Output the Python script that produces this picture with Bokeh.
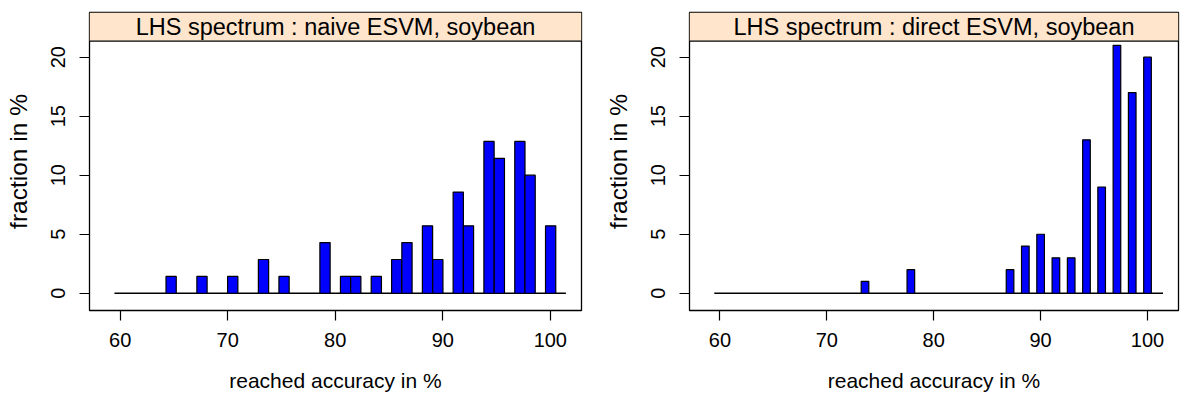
from bokeh.plotting import figure
from bokeh.layouts import row
from bokeh.models import BoxAnnotation, Span, Label, FixedTicker, ColumnDataSource
from bokeh.embed import file_html
from bokeh.resources import INLINE

# ---------------- data ----------------
left_title = "LHS spectrum : naive ESVM, soybean"
left_centers = [64.74, 67.61, 70.47, 73.33, 75.24, 79.05, 80.96, 81.91, 83.82, 85.72,
                86.67, 88.58, 89.54, 91.44, 92.39, 94.30, 95.26, 97.17, 98.12, 100.03]
left_values = [1.43, 1.43, 1.43, 2.86, 1.43, 4.29, 1.43, 1.43, 1.43, 2.86,
               4.29, 5.71, 2.86, 8.57, 5.71, 12.86, 11.43, 12.86, 10.0, 5.71]
left_bar_width = 0.953

right_title = "LHS spectrum : direct ESVM, soybean"
right_centers = [73.57, 77.86, 87.14, 88.57, 90.0, 91.43, 92.86, 94.29, 95.71, 97.14, 98.57, 100.0]
right_values = [1, 2, 2, 4, 5, 3, 3, 13, 9, 21, 17, 20]
right_bar_width = 0.714

baseline_x = [59.47, 101.45]
x_ticks = [60, 70, 80, 90, 100]
y_ticks = [0, 5, 10, 15, 20]
x_label = "reached accuracy in %"
y_label = "fraction in %"

# ---------------- style ----------------
FONT = "Liberation Sans"
X_RANGE = (57.15, 102.9)
Y_RANGE = (-1.46, 23.78)
STRIP_BOTTOM = 21.36
STRIP_COLOR = "#FFE5CC"


def make_panel(title, centers, values, bw, width, border_left, border_right):
    p = figure(width=width, height=394, output_backend="svg", toolbar_location=None,
               x_range=X_RANGE, y_range=Y_RANGE,
               min_border_left=border_left, min_border_right=border_right,
               min_border_top=12, min_border_bottom=84)
    p.background_fill_color = "white"
    p.border_fill_color = "white"
    p.outline_line_color = "black"
    p.outline_line_width = 1.3
    p.grid.visible = False

    # strip
    p.add_layout(BoxAnnotation(bottom=STRIP_BOTTOM, fill_color=STRIP_COLOR, fill_alpha=1.0,
                               line_color=None, level="underlay"))
    p.add_layout(Span(location=STRIP_BOTTOM, dimension="width", line_color="black",
                      line_width=1.3))
    p.add_layout(Label(x=(X_RANGE[0] + X_RANGE[1]) / 2, y=(STRIP_BOTTOM + Y_RANGE[1]) / 2,
                       text=title, text_align="center", text_baseline="middle",
                       text_font=FONT, text_font_size="23.5px", text_color="black"))

    # baseline
    p.line(x=baseline_x, y=[0, 0], line_color="black", line_width=1.5)

    src = ColumnDataSource(dict(x=centers, top=values))
    p.vbar(x="x", top="top", bottom=0, width=bw, source=src,
           fill_color="#0000FF", line_color="black", line_width=1.2)

    for ax in (p.xaxis[0], p.yaxis[0]):
        ax.axis_line_color = None
        ax.major_tick_in = 0
        ax.major_tick_out = 10
        ax.major_tick_line_color = "black"
        ax.major_tick_line_width = 1.2
        ax.minor_tick_line_color = None
        ax.major_label_text_font = FONT
        ax.major_label_text_font_size = "20px"
        ax.major_label_text_color = "black"
        ax.axis_label_text_font = FONT
        ax.axis_label_text_font_style = "normal"
        ax.axis_label_text_color = "black"

    p.xaxis.axis_label_text_font_size = "21px"
    p.yaxis.axis_label_text_font_size = "24.5px"
    p.xaxis.ticker = FixedTicker(ticks=x_ticks)
    p.yaxis.ticker = FixedTicker(ticks=y_ticks)
    p.xaxis.axis_label = x_label
    p.yaxis.axis_label = y_label
    p.xaxis.major_label_standoff = 12
    p.xaxis.axis_label_standoff = 19
    p.yaxis.major_label_orientation = "vertical"
    p.yaxis.major_label_standoff = 14
    p.yaxis.axis_label_standoff = 17
    return p


p1 = make_panel(left_title, left_centers, left_values, left_bar_width, 590, 89, 9)
p2 = make_panel(right_title, right_centers, right_values, right_bar_width, 592, 99, 4)

layout = row(p1, p2)
open("out.html", "w").write(file_html(layout, INLINE))
